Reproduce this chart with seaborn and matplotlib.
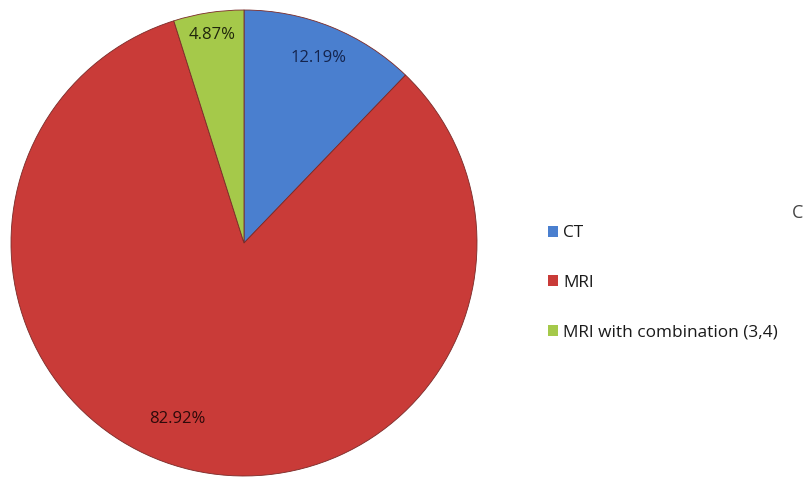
import matplotlib
matplotlib.use("Agg")
import matplotlib.pyplot as plt
import seaborn as sns
import numpy as np
from matplotlib.patches import Patch

sns.set_theme(style="white")
plt.rcParams['font.family'] = ['Open Sans', 'DejaVu Sans']

categories = ["CT", "MRI", "MRI with combination (3,4)"]
shares = [12.19, 82.92, 4.87]
pct_labels = ["12.19%", "82.92%", "4.87%"]
colors = ["#4a7fcf", "#c93b38", "#a5c94a"]
label_colors = ["#14244d", "#2e0a0a", "#20260c"]

fig = plt.figure(figsize=(8.07, 4.88), dpi=100)
ax = fig.add_axes([11 / 807, 12 / 488, 466 / 807, 466 / 488])

wedges, _ = ax.pie(shares, colors=colors, startangle=90, counterclock=False,
                   radius=1.0,
                   wedgeprops=dict(edgecolor="#7a2a28", linewidth=0.6))
ax.set_xlim(-1, 1)
ax.set_ylim(-1, 1)
ax.set_aspect("equal")
ax.axis("off")

# percentage labels placed along each wedge's mid-angle
label_radius = [0.855, 0.81, 0.905]
angle_shift = [0.0, -7.6, 0.0]
for w, txt, r, da, c in zip(wedges, pct_labels, label_radius, angle_shift, label_colors):
    mid = np.deg2rad((w.theta1 + w.theta2) / 2 + da)
    ax.text(r * np.cos(mid), r * np.sin(mid), txt, ha="center", va="center",
            fontsize=12, color=c)

handles = [Patch(facecolor=c, edgecolor="none") for c in colors]
fig.legend(handles, categories, loc="center left",
           bbox_to_anchor=(532 / 807, 1 - 283 / 488), frameon=False,
           handlelength=0.6, handleheight=0.6, handletextpad=0.3,
           labelspacing=1.95, fontsize=12.4, labelcolor="#1a1a1a")

fig.text(803 / 807, 1 - 213 / 488, "C", fontsize=13, color="#444444",
         ha="right", va="center")

fig.savefig("out.png", dpi=100)
